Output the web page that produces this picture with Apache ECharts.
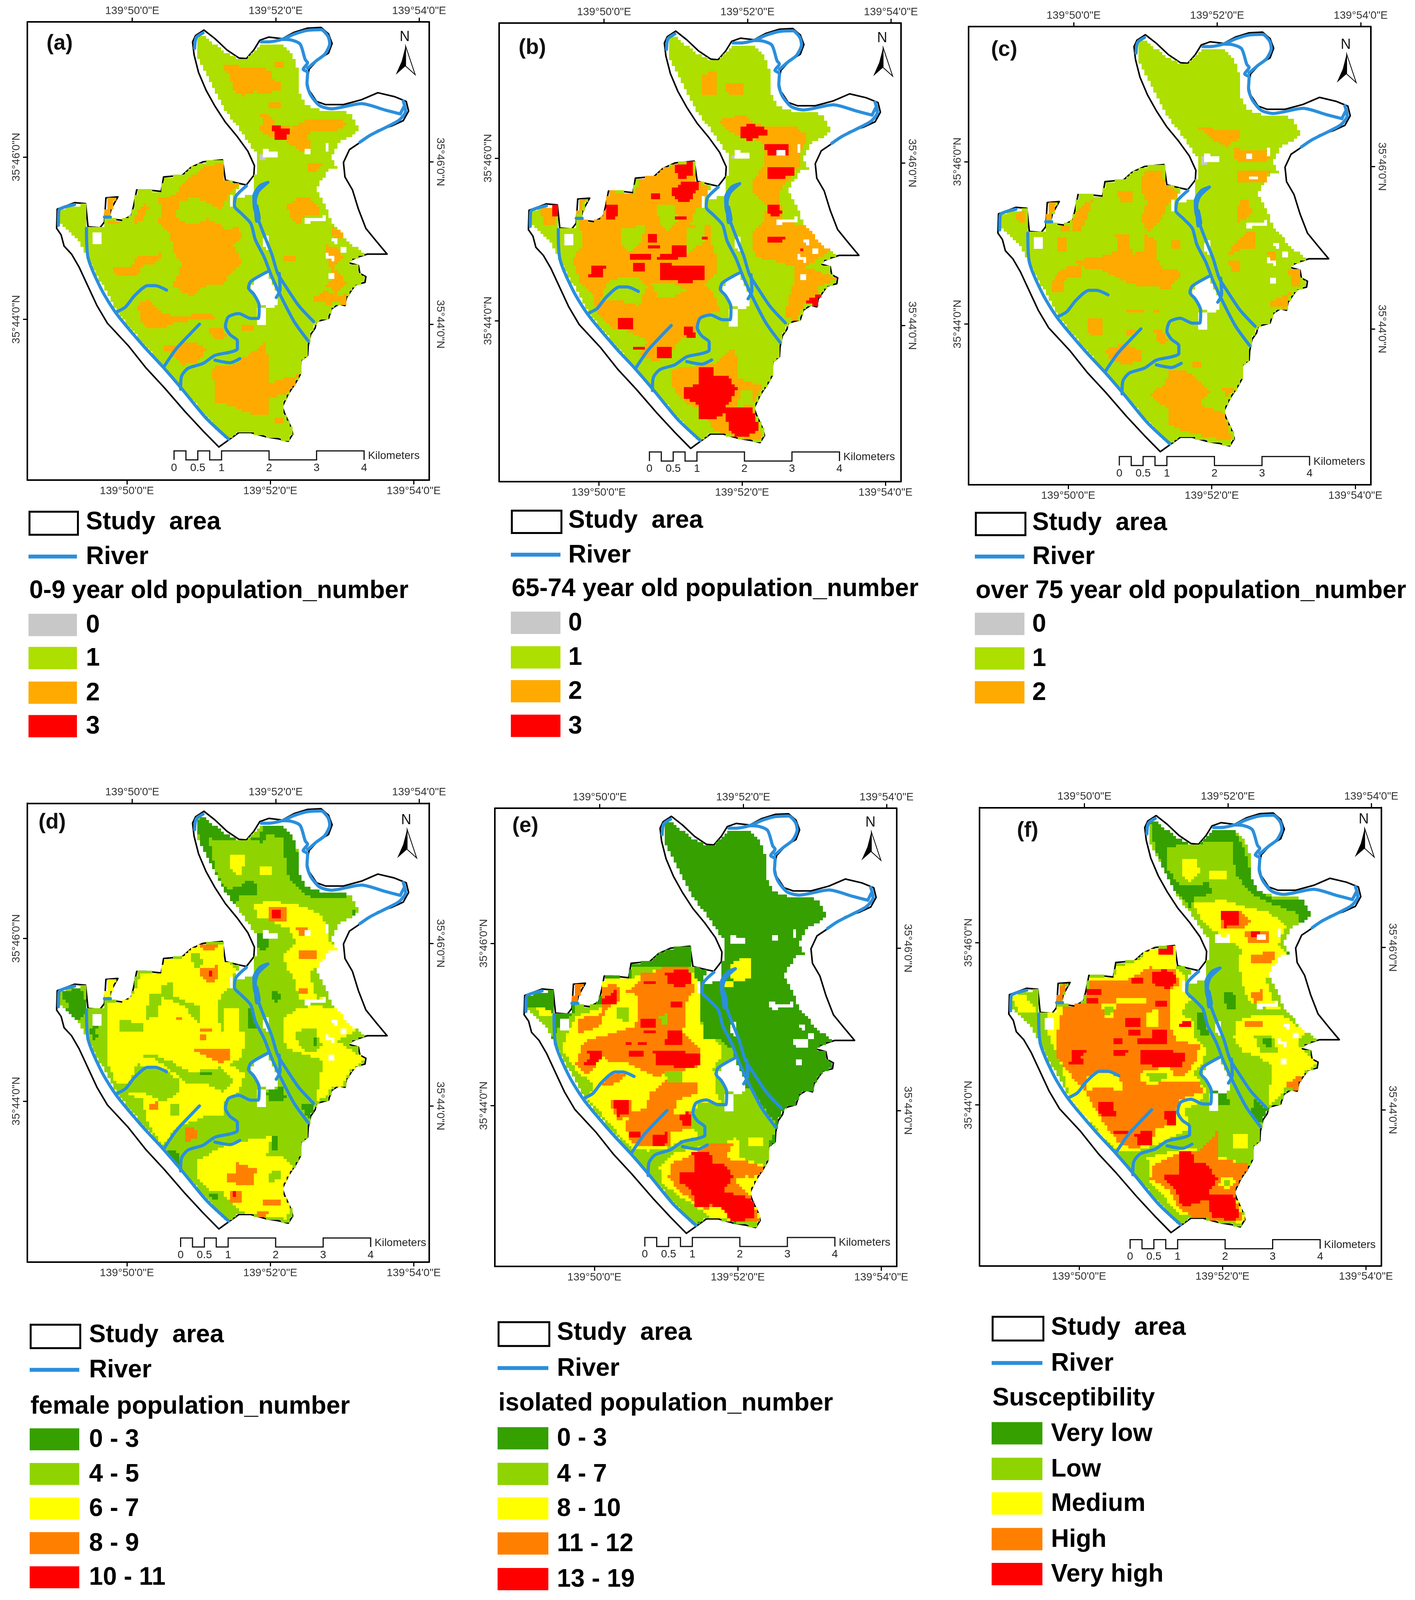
<!DOCTYPE html>
<html lang="en">
<head>
<meta charset="UTF-8">
<title>Population susceptibility maps</title>
<style>html,body{margin:0;padding:0;background:#fff;overflow:hidden}</style>
</head>
<body>
<div id="main" style="width:3623px;height:4442px;"></div>
<script src="https://cdn.jsdelivr.net/npm/echarts@6/dist/echarts.min.js"></script>
<script>
// tick labels (minutes of arc)
var lonTicks = [50, 52, 54];
var latTicks = [44, 46];

// map shapes are digitised on a 0.25" raster, see lonOf / latOf
var studyArea = [683,93,720,120,760,155,800,180,825,182,850,155,870,125,900,115,945,120,985,100,1030,87,1075,85,1100,105,1112,135,1100,165,1065,185,1035,215,1028,250,1035,280,1060,315,1090,325,1150,325,1210,310,1265,288,1320,300,1360,315,1368,345,1350,375,1310,392,1265,405,1210,440,1170,465,1150,505,1155,550,1180,590,1200,650,1225,710,1260,750,1296,790,1230,790,1195,800,1160,815,1200,825,1205,850,1225,860,1222,878,1190,885,1175,905,1160,925,1155,950,1135,945,1110,960,1100,990,1060,1000,1055,1020,1040,1040,1032,1075,1030,1105,1008,1120,1005,1165,990,1190,965,1225,945,1265,955,1290,975,1330,980,1350,965,1372,935,1365,890,1358,840,1345,800,1345,770,1365,733,1390,680,1340,620,1280,550,1205,490,1145,430,1075,360,1005,325,950,295,890,265,830,240,790,215,765,205,730,190,710,192,650,250,630,287,633,295,705,335,708,350,690,355,615,395,612,372,650,365,680,410,685,440,670,450,630,458,590,490,590,540,595,548,550,610,545,640,520,680,503,745,497,755,560,800,570,825,575,850,545,852,515,830,470,795,425,755,380,720,330,690,280,665,225,650,170,645,130,655,110];
var landArea = [665,112,690,115,735,150,790,180,825,185,850,165,875,135,950,140,980,165,1000,230,1005,295,1030,330,1070,340,1170,350,1190,375,1200,410,1135,440,1110,490,1130,520,1100,530,1060,585,1090,640,1110,690,1135,710,1165,750,1220,790,1160,815,1200,825,1205,850,1225,860,1222,878,1190,885,1175,905,1160,925,1155,950,1135,945,1110,960,1100,990,1060,1000,1040,1040,1032,1075,1030,1105,1008,1120,1005,1165,990,1190,965,1225,945,1265,955,1290,975,1330,980,1350,965,1372,935,1365,890,1358,840,1345,800,1345,770,1365,755,1365,610,1210,390,970,295,800,265,750,205,700,195,650,285,635,295,705,345,705,360,620,390,615,365,680,410,685,440,670,450,630,458,590,490,590,540,595,548,550,610,545,640,520,680,503,745,497,755,560,800,570,785,620,850,600,860,480,820,425,775,370,740,320,700,250,665,180];
var landHoles = [
  [850,870,895,845,925,900,935,950,900,955,870,945,840,905],
  [860,960,890,960,895,1015,860,1015],
  [312,720,340,720,340,762,312,762],
  [1020,680,1090,672,1090,690,1025,692],
  [1020,465,1045,465,1045,480,1020,480],
  [885,465,930,470,930,485,885,485],
  [1095,790,1125,795,1120,812,1095,805],
  [770,610,785,610,785,640,772,640],
  [880,738,905,735,900,775,885,770],
  [1085,440,1105,440,1105,470,1090,470],
  [1110,735,1135,745,1130,760,1112,752],
  [1135,770,1165,770,1165,785,1140,785],
  [1100,850,1125,850,1120,870,1105,870]
];
var riverPaths = [
  [290,710,295,800,340,900,390,975,480,1075,545,1140,610,1210,690,1300,765,1365],
  [390,970,420,955,450,920,495,888,520,888,558,902],
  [548,1142,590,1085,640,1035,668,1008],
  [605,1210,608,1170,630,1145,680,1130,720,1105,770,1095,795,1085,795,1060,770,1040,755,1015,765,985,800,975,840,990,865,990,868,950,850,915,832,895,840,875,895,845],
  [720,1120,770,1128,803,1115],
  [825,578,790,610,785,640,810,665,840,695,855,745,885,800,910,860,940,920,985,1000,1032,1060],
  [897,567,870,578,850,610,853,650,880,720,910,790,930,850,960,895,1000,950,1050,1000],
  [897,567,865,595,855,625,860,688,868,680,860,640],
  [935,850,938,900,925,925],
  [945,122,975,124,1005,137,1022,185,1030,195,1015,215,1030,225,1028,260,1040,295,1070,328,1110,338,1210,322,1290,342,1340,354],
  [875,130,900,130,945,122,985,106,1030,94,1075,92,1098,112,1104,135,1088,168,1060,188,1030,212],
  [1350,314,1358,345,1338,372,1300,392,1240,420,1205,442],
  [1340,354,1352,332],
  [680,102,657,117,652,150],
  [196,700,198,653,250,636],
  [350,675,370,675]
];

// class legends
var classesAgeA = ['0', '1', '2', '3'];
var classesAgeB = ['0', '1', '2', '3'];
var classesAgeC = ['0', '1', '2'];
var classesFemale = ['0 - 3', '4 - 5', '6 - 7', '8 - 9', '10 - 11'];
var classesIsolated = ['0 - 3', '4 - 7', '8 - 10', '11 - 12', '13 - 19'];
var classesSuscept = ['Very low', 'Low', 'Medium', 'High', 'Very high'];
var headings = ['0-9 year old population_number', '65-74 year old population_number', 'over 75 year old population_number', 'female population_number', 'isolated population_number', 'Susceptibility'];
var panelNames = ['(a)', '(b)', '(c)', '(d)', '(e)', '(f)'];
var scaleKm = [0, 0.25, 0.5, 0.75, 1, 2, 3, 4];
var scaleLabels = [0, 0.5, 1, 2, 3, 4];

// zones: first number is the class, -1 means no data (white), the rest is the zone outline
var zonesA = [
  [2,745,205,790,200,830,215,870,210,915,220,915,250,945,262,945,275,900,290,850,285,810,298,780,280,770,235],
  [2,905,320,945,320,945,335,905,335],
  [2,925,195,950,195,950,210,925,210],
  [2,870,355,900,350,920,385,975,395,1020,375,1090,375,1150,375,1165,385,1130,405,1060,405,1030,420,1040,445,1035,480,1000,465,960,440,910,425,865,405,885,380],
  [3,907,385,970,402,955,438,925,435],
  [2,1030,505,1085,505,1060,530,1030,530],
  [2,960,640,1000,610,1040,620,1070,645,1075,670,1020,670,1000,705,975,680],
  [2,1105,700,1145,720,1150,745,1120,745],
  [2,1085,760,1130,770,1150,800,1120,830,1145,860,1160,880,1130,910,1090,890,1115,860,1100,820],
  [2,1040,930,1090,905,1140,920,1165,910,1155,950,1130,940,1100,945,1060,940],
  [2,950,795,990,795,985,815,955,815],
  [2,530,620,590,605,610,575,680,520,745,505,755,560,800,575,770,600,740,650,650,610,600,630,590,680,640,700,700,680,740,700,760,720,800,700,810,740,780,760,810,815,770,850,750,890,700,880,640,920,580,890,610,820,585,790,570,730,530,690,545,650],
  [2,450,680,480,630,500,640,480,680,450,700],
  [2,365,685,405,685,400,700,365,698],
  [2,380,835,440,830,460,795,540,790,530,815,470,830,460,860,390,855],
  [2,460,950,500,930,545,975,610,985,700,970,720,990,600,1000,550,1020,480,1015],
  [2,700,1015,745,1020,760,1050,725,1060,705,1040],
  [2,535,1080,590,1075,640,1060,690,1085,670,1120,610,1135,570,1095],
  [2,705,1145,790,1130,860,1085,890,1060,900,1140,905,1190,1000,1165,990,1190,960,1225,900,1240,905,1290,830,1285,790,1265,720,1250,720,1200],
  [2,920,1300,945,1295,950,1320,925,1320],
  [2,810,1015,850,1010,845,1030,815,1030],
  [2,360,620,390,615,365,675,350,675],
  [0,870,480,890,475,885,495,870,495],
  [0,258,755,275,760,275,780,262,775]
];
var zonesB = [
  [2,780,230,830,225,835,290,780,295],
  [2,865,262,925,258,925,295,865,290],
  [2,840,375,915,355,960,385,1010,395,1080,390,1130,415,1125,450,1110,480,1105,520,1060,570,1040,600,1050,680,1090,695,1145,705,1170,745,1215,770,1180,800,1130,830,1230,865,1175,890,1160,925,1120,945,1100,995,1060,990,1060,970,1090,870,1085,830,1020,810,960,800,945,730,985,690,1000,640,960,610,945,570,990,510,990,450,950,430,895,420,850,395],
  [2,370,680,410,685,450,660,465,595,560,600,570,560,640,530,680,515,750,510,760,560,800,580,790,640,760,650,740,700,810,700,815,760,830,810,835,850,790,880,830,930,840,965,780,985,760,1040,700,1060,680,1100,620,1125,570,1100,600,1060,540,1030,480,1020,430,970,420,925,370,870,350,810,380,760],
  [1,630,640,690,640,700,680,670,720,640,700],
  [1,515,710,590,700,580,750,540,790,510,760],
  [1,725,710,785,700,790,750,730,790],
  [1,470,870,560,860,600,890,570,950,490,930,440,935],
  [1,610,880,700,885,730,905,680,925,630,920],
  [3,905,395,950,385,980,395,1010,415,970,425,945,440,915,430],
  [3,993,452,1065,452,1070,485,1000,488],
  [-1,1030,465,1060,465,1060,485,1030,485],
  [3,1003,522,1090,518,1085,550,1003,555],
  [3,1003,640,1030,635,1050,660,1030,680,1005,665],
  [3,995,735,1060,732,1050,750,1000,752],
  [3,1105,775,1125,770,1120,790],
  [3,685,585,720,565,780,570,755,605,740,630,700,625,678,605],
  [3,685,510,750,505,750,550,700,555],
  [3,610,600,645,600,640,618,610,615],
  [3,465,640,505,635,505,650,490,680,460,678],
  [3,690,672,730,670,725,682,690,685],
  [3,598,725,635,725,635,750,600,750],
  [3,600,760,640,765,640,775,600,775],
  [3,635,795,680,790,685,762,730,760,725,800,670,808,635,805],
  [3,635,820,790,825,790,870,730,878,640,870],
  [3,545,792,610,792,605,805,545,805],
  [3,550,820,595,820,590,840,550,840],
  [3,410,825,465,822,450,845,455,865,400,862,415,845],
  [3,500,985,550,985,555,1020,505,1025],
  [3,720,1020,750,1015,762,1055,730,1055],
  [3,628,1080,680,1080,680,1115,630,1118],
  [3,550,1075,595,1075,590,1088,550,1088],
  [3,780,735,808,732,800,748,782,748],
  [2,830,1130,880,1080,905,1120,900,1175,985,1200,950,1260,975,1340,985,1370,960,1370,890,1355,820,1340,790,1280,720,1250,680,1200,680,1150,720,1140],
  [1,910,1215,950,1215,950,1260,900,1265],
  [3,770,1140,820,1140,825,1165,870,1170,898,1210,860,1270,950,1270,970,1320,960,1350,900,1360,870,1340,860,1285,815,1305,775,1305,765,1255,720,1235,720,1210,770,1195],
  [3,1125,935,1165,920,1190,900,1165,955,1140,945],
  [2,365,620,390,620,370,670,360,665],
  [2,240,650,295,640,295,705,250,700],
  [3,275,640,298,635,295,675,280,675],
  [0,885,480,905,475,900,495,885,495]
];
var zonesC = [
  [2,858,398,990,405,990,430,950,455,900,435],
  [2,975,462,1090,470,1085,505,980,500],
  [-1,1015,480,1035,480,1035,495,1015,495],
  [2,985,530,1090,530,1075,570,985,570],
  [-1,1020,545,1050,545,1050,560,1020,560],
  [2,990,620,1020,620,1030,660,1015,680,985,690],
  [2,955,785,980,750,1020,720,1045,720,1045,770,990,780,960,795],
  [2,955,810,990,810,995,850,965,850],
  [2,1085,780,1115,785,1110,810,1090,810],
  [2,1150,840,1185,840,1195,885,1165,890],
  [2,1080,945,1130,925,1160,905,1145,960,1100,955],
  [2,450,810,530,800,590,780,585,725,625,725,640,790,680,780,680,730,720,750,725,830,805,845,760,900,640,885,600,870,540,840,470,830],
  [2,665,590,680,530,735,530,750,575,795,600,755,640,730,690,690,720,670,680,690,630],
  [2,590,590,640,590,640,630,600,630],
  [2,450,670,480,640,510,620,490,680,470,720,445,720],
  [2,395,740,420,740,420,780,395,780],
  [2,765,745,800,745,800,770,770,770],
  [2,380,870,410,835,470,825,470,860,420,870,410,908,380,905],
  [2,490,990,545,990,545,1040,500,1040],
  [2,625,960,685,960,680,975,625,975],
  [2,705,960,730,960,730,975,705,975],
  [2,545,1090,610,1070,670,1090,670,1125,610,1135,570,1115],
  [2,620,1025,650,1025,640,1040,620,1040],
  [2,710,1030,740,1030,760,1065,730,1070],
  [2,760,1145,830,1160,895,1215,860,1260,940,1285,965,1370,890,1360,820,1345,760,1320,755,1270,695,1230,750,1190],
  [2,935,1210,975,1210,950,1230],
  [2,840,1125,865,1125,865,1140,840,1140],
  [2,360,630,388,630,375,680,355,685],
  [2,260,665,290,655,290,695,265,695],
  [2,400,700,440,700,430,720,410,720],
  [0,870,490,890,485,885,512,868,510]
];
var zonesD = [
  [0,665,140,700,130,740,155,790,195,830,205,870,190,890,150,950,160,980,190,1000,260,1000,300,1030,340,1070,355,1170,370,1150,385,1030,380,985,340,960,310,950,200,900,185,880,210,700,200,720,290,745,340,800,380,790,410,750,385,715,320,680,250,665,190],
  [0,735,360,800,350,830,330,858,340,855,375,790,380,760,385],
  [0,1190,410,1200,450,1170,460,1180,430],
  [0,855,500,885,490,905,520,890,545,860,540],
  [0,905,680,930,670,945,695,925,710,908,700],
  [0,200,680,270,660,285,700,290,735,260,770,210,740,235,720],
  [0,300,790,345,765,345,790,310,830],
  [0,890,985,945,970,960,1010,905,1015],
  [0,1000,1020,1050,1020,1040,1075,1020,1050],
  [0,825,730,845,730,860,790,835,790],
  [0,910,1120,930,1120,930,1165,915,1165],
  [0,550,1165,605,1175,600,1220,585,1210],
  [0,700,1300,735,1300,735,1325,710,1325],
  [2,360,710,410,700,450,680,470,620,540,610,545,580,610,570,640,540,680,525,745,525,760,580,790,600,770,660,735,700,735,770,820,770,820,830,810,880,770,900,820,930,800,985,750,1020,745,1060,695,1060,640,1080,590,1100,545,1150,500,1090,475,1010,420,990,500,930,600,960,560,920,460,900,430,960,390,960,355,880,360,790],
  [1,320,790,360,760,365,880,345,900],
  [1,400,765,480,770,475,795,405,795],
  [1,500,680,540,680,530,755,490,760],
  [1,535,660,575,645,585,690,640,710,675,720,670,775,640,755,620,720,540,690],
  [1,640,560,670,550,680,595,650,600],
  [1,735,690,790,670,825,730,820,800,740,800],
  [2,755,725,805,725,800,800,755,800],
  [1,450,880,510,870,570,890,640,925,735,910,780,950,750,990,690,960,620,960,590,930,510,880],
  [1,440,950,530,930,605,950,600,985,550,1020,490,990,420,990],
  [1,570,1020,600,1030,595,1060,570,1060],
  [1,680,1065,750,1070,740,1110,680,1140,600,1150,640,1090],
  [0,670,925,710,920,710,935,670,935],
  [3,670,530,735,525,720,550,685,550],
  [3,672,600,735,595,735,640,700,645,675,630],
  [4,695,610,710,610,705,625],
  [3,640,850,775,850,770,890,735,895,690,875],
  [3,590,755,612,755,612,762,590,762],
  [3,675,788,710,788,710,798,675,798],
  [3,675,808,690,808,690,822,675,822],
  [3,500,1030,528,1012,530,1045,500,1045],
  [3,620,1100,650,1095,665,1130,620,1140],
  [2,770,250,820,250,810,320,770,290],
  [2,870,285,915,285,915,315,875,315],
  [2,850,405,900,395,960,400,1010,410,1070,435,1085,455,1100,470,1100,520,1130,540,1090,590,1040,620,1080,700,1000,700,990,640,960,600,950,560,990,520,970,480,890,450,860,445],
  [1,1035,610,1085,590,1110,680,1060,700],
  [3,895,415,960,415,960,455,905,455],
  [4,910,425,945,425,945,452,910,450],
  [3,990,475,1040,480,1035,505,1000,500],
  [3,995,550,1060,548,1055,578,1000,575],
  [3,1005,665,1030,665,1025,680,1005,680],
  [2,950,760,1000,725,1060,720,1130,730,1200,790,1130,830,1225,885,1175,920,1150,965,1110,975,1090,1005,1060,1015,1070,940,1085,890,1020,870,960,850,945,810],
  [1,985,800,1050,785,1080,840,1040,870,1000,840],
  [0,1050,820,1065,820,1065,840,1050,840],
  [2,660,1200,760,1150,870,1130,910,1125,890,1190,950,1190,990,1230,960,1260,975,1340,960,1380,880,1375,810,1360,800,1350,760,1320,740,1290,700,1290,660,1250],
  [1,895,1240,935,1230,940,1260,905,1265],
  [3,790,1205,860,1225,845,1275,800,1275,760,1265,755,1245,790,1240],
  [3,765,1290,815,1290,805,1330,770,1325],
  [4,775,1298,795,1298,790,1318],
  [3,880,1320,940,1325,935,1340,885,1340],
  [3,860,1360,905,1355,880,1375,865,1372],
  [2,350,640,395,640,370,690,350,700]
];
var zonesE = [
  [1,290,830,300,790,350,745,365,710,440,720,450,640,540,635,550,600,700,595,755,600,770,680,780,720,850,830,890,860,900,990,940,975,1030,1090,1030,1110,1005,1150,1000,1220,960,1280,950,1310,975,1385,960,1410,880,1390,800,1380,750,1400,600,1250,385,1020,320,900],
  [1,195,720,240,725,285,745,285,790,310,850,280,810,245,775,205,745],
  [2,225,725,265,730,285,750,260,755,235,745],
  [0,775,720,810,710,850,820,790,840],
  [2,360,750,440,730,450,640,520,630,540,635,650,600,755,620,780,660,780,770,790,820,840,830,845,880,820,910,825,980,845,1020,770,1020,740,1080,770,1130,710,1140,670,1160,600,1170,540,1160,440,1050,400,1010,420,960,370,930,310,850],
  [3,365,760,440,745,450,720,445,660,500,650,505,700,460,730,440,780,365,810],
  [3,580,620,640,610,650,600,735,600,755,670,725,710,725,790,680,800,630,790,625,740,565,740,560,680,520,680,570,650],
  [3,385,830,520,795,560,780,565,740,625,740,630,790,675,760,680,680,725,700,720,800,780,860,780,905,700,925,630,940,560,910,520,890,470,895,450,880,395,935,360,900],
  [3,590,1040,610,990,660,950,770,960,770,990,700,1015,680,1060,745,1050,750,1100,680,1115,670,1160,590,1160,540,1140,525,1090,545,1050],
  [3,480,1010,545,1010,550,1060,500,1075,480,1040],
  [3,460,940,500,925,530,935,480,970,450,965],
  [1,500,720,540,720,530,770,500,760],
  [1,640,750,670,745,670,780,645,780],
  [1,650,920,715,920,720,955,670,960],
  [4,660,620,700,605,740,610,750,650,700,665,670,650],
  [4,590,640,630,640,625,655,590,655],
  [4,445,700,495,670,500,690,490,715,445,715],
  [4,675,708,720,705,720,720,675,720],
  [4,580,760,625,758,625,785,580,785],
  [4,585,795,630,795,630,808,585,808],
  [4,660,825,670,795,715,795,715,840,660,845],
  [4,620,860,775,865,775,905,730,915,625,900],
  [4,530,830,550,830,550,845,530,845],
  [4,570,830,595,830,595,845,570,845],
  [4,395,860,450,857,445,880,425,902,385,900,405,880],
  [4,535,860,585,860,580,878,535,878],
  [4,485,1015,540,1012,540,1060,495,1062],
  [4,705,1055,740,1050,750,1092,715,1095],
  [4,615,1118,665,1115,665,1150,620,1155],
  [4,540,1110,580,1108,580,1125,540,1125],
  [2,640,1220,680,1180,810,1150,880,1140,900,1120,905,1190,1000,1220,955,1290,975,1385,900,1390,800,1375,760,1340,700,1310,650,1270],
  [3,680,1210,750,1180,810,1150,885,1150,860,1195,920,1200,1000,1225,960,1250,900,1270,940,1310,975,1390,880,1395,850,1330,790,1355,700,1290,670,1250],
  [4,750,1175,810,1175,815,1205,860,1215,885,1250,850,1300,920,1310,950,1320,960,1380,880,1395,850,1350,810,1340,760,1345,750,1300,705,1265,705,1240,755,1235],
  [2,895,1255,935,1250,935,1280,905,1285],
  [2,930,1125,985,1125,985,1160,935,1160],
  [3,350,655,385,650,365,710,345,710],
  [2,880,590,910,570,945,570,945,630,905,650,880,630],
  [2,855,640,895,640,880,660,860,660],
  [-1,880,510,930,510,930,525,880,525],
  [-1,1015,500,1040,500,1040,520,1015,520],
  [-1,1010,710,1090,712,1090,725,1010,722],
  [-1,1090,820,1140,825,1130,850,1095,845],
  [-1,1065,620,1100,620,1125,670,1085,660]
];
var zonesF = [
  [0,700,150,735,150,780,195,830,215,870,215,890,165,980,175,1010,240,1030,310,1060,360,1095,385,1195,385,1220,410,1225,455,1190,470,1180,430,1090,400,1030,370,980,310,965,205,890,210,760,225,755,290,790,340,845,345,890,335,905,370,840,385,835,420,780,360,740,290,715,230],
  [2,800,262,855,262,860,310,830,335,805,310],
  [2,890,295,950,295,950,325,895,325],
  [2,840,395,905,400,920,385,1000,410,1090,430,1145,470,1120,530,1150,560,1100,610,1080,640,1100,700,1130,730,1060,725,1020,700,1000,640,990,580,1000,545,950,510,900,480,860,440],
  [3,925,430,990,425,1030,455,1000,480,935,480],
  [4,928,428,985,425,990,470,945,475],
  [3,1010,490,1085,485,1085,520,1020,520],
  [4,1030,490,1062,490,1062,510,1035,510],
  [-1,1055,495,1075,495,1075,515,1055,515],
  [3,1025,560,1110,552,1100,585,1030,590],
  [3,1025,680,1065,670,1065,700,1045,710],
  [-1,915,510,960,500,965,520,920,525],
  [0,940,680,975,680,985,730,950,735],
  [0,1115,580,1160,550,1130,620,1110,610],
  [0,900,980,935,960,965,1030,910,1030],
  [0,1040,1010,1085,1040,1060,1090,1030,1060],
  [0,850,740,880,740,890,810,860,810],
  [2,360,740,405,720,490,720,500,630,590,625,590,600,660,580,690,545,780,535,785,600,810,620,830,700,800,740,840,770,845,820,880,850,875,900,840,930,885,980,860,1020,810,1040,830,1100,770,1130,720,1150,640,1175,590,1170,440,1020,400,880,360,800],
  [3,405,760,410,720,490,710,500,640,600,640,620,640,700,600,780,605,795,650,760,680,765,720,770,800,790,830,860,840,855,880,820,930,770,950,860,960,880,985,800,1010,780,1060,780,1090,720,1100,700,1150,640,1165,590,1140,560,1100,510,1030,490,990,450,950,395,880,390,830],
  [2,540,715,585,715,580,760,550,760],
  [1,550,725,575,725,572,750,555,750],
  [2,590,695,690,695,690,710,590,710],
  [2,690,740,725,730,720,790,680,780],
  [2,670,925,760,910,790,950,700,965,660,950],
  [1,685,930,750,925,755,950,700,955],
  [2,485,940,540,925,600,940,610,985,540,970,490,985],
  [4,700,620,745,605,780,620,785,650,755,670,710,650],
  [4,635,635,680,635,675,652,635,652],
  [4,495,670,540,668,535,685,495,685],
  [4,495,695,530,695,525,715,490,715],
  [4,718,705,755,703,750,718,718,718],
  [4,620,760,665,760,665,785,620,785],
  [4,625,795,665,795,665,808,625,808],
  [4,655,825,705,822,710,795,755,795,750,840,655,842],
  [4,665,860,815,862,805,910,750,915,670,900],
  [4,575,825,610,825,605,838,575,838],
  [4,575,855,625,855,620,875,580,875],
  [4,440,860,490,858,475,880,480,900,430,900,445,880],
  [4,530,1015,580,1015,585,1060,535,1060],
  [4,745,1050,780,1050,785,1095,755,1095],
  [4,650,1115,705,1110,710,1150,660,1155],
  [4,580,1110,625,1108,625,1122,580,1122],
  [4,725,540,780,535,775,557,725,557],
  [4,795,775,830,765,830,785,800,790],
  [2,690,1190,830,1160,900,1180,1020,1215,990,1280,1010,1395,900,1385,800,1370,760,1330,700,1270],
  [3,705,1215,790,1180,860,1170,920,1110,925,1195,1030,1215,990,1270,975,1300,1005,1390,900,1385,830,1375,790,1340,760,1290,700,1260],
  [2,930,1250,985,1260,960,1290,925,1280],
  [1,945,1262,965,1262,955,1278,940,1275],
  [4,790,1175,835,1175,845,1205,890,1215,920,1260,885,1310,975,1310,990,1370,970,1390,900,1375,885,1320,830,1340,800,1340,785,1290,750,1265,745,1245,795,1240],
  [2,970,1115,1020,1115,1020,1160,975,1160],
  [2,980,770,1050,745,1130,745,1210,800,1180,840,1250,895,1210,925,1180,970,1145,975,1090,1035,1090,1000,1100,905,1060,880,1000,860,975,820],
  [1,1040,810,1100,815,1120,870,1060,870],
  [0,1070,820,1095,820,1095,850,1075,850],
  [3,1010,770,1075,765,1070,785,1015,785],
  [3,1145,965,1200,930,1185,985,1160,975],
  [3,395,660,425,650,405,705,390,710],
  [2,240,690,290,690,330,735,270,745]
];

var swatchAge = ['#C8C8C8', '#ADDF00', '#FFAA00', '#FF0000'];
var swatchSusc = ['#35A000', '#8FD400', '#FFFF00', '#FF8000', '#FF0000'];
var riverColor = '#2A8FDC';
var font = '"Liberation Sans", Arial, sans-serif';

// georeference of the digitised raster
function lonOf(x) { return 50 + (x - 425) / 240; }
function latOf(y) { return 46 - (y - 488) / 252.5; }

var panels = [
  { frame: [70, 61, 1029, 1272], origin: [92, 68, 1], base: 1, zones: zonesA, classes: classesAgeA, colors: swatchAge, tag: [200, 135], north: [1355, 115], bar: [583, 1402],
    lg: { x: 73, box: [1418, 64], river: 1545, head: 1641, textX: 220, sw: [1735, 1827, 1923, 2016], w: 124, h: 62 } },
  { frame: [1278, 64, 1029, 1273], origin: [102, 72, 1], base: 1, zones: zonesB, classes: classesAgeB, colors: swatchAge, tag: [203, 146], north: [1374, 116], bar: [595, 1401],
    lg: { x: 1308, box: [1415, 62], river: 1540, head: 1636, textX: 1455, sw: [1729, 1825, 1919, 2015], w: 127, h: 62 } },
  { frame: [2480, 74, 1030, 1272], origin: [103, 83, 1.0195], base: 1, zones: zonesC, classes: classesAgeC, colors: swatchAge, tag: [211, 140], north: [1353, 125], bar: [596, 1405],
    lg: { x: 2496, box: [1421, 62], river: 1545, head: 1641, textX: 2643, sw: [1732, 1828, 1922], w: 127, h: 62 } },
  { frame: [70, 2230, 1029, 1274], origin: [92, 90, 1], base: 1, zones: zonesD, classes: classesFemale, colors: swatchSusc, tag: [175, 128], north: [1360, 121], bar: [605, 1418],
    lg: { x: 76, box: [3675, 65], river: 3803, head: 3906, textX: 228, sw: [3996, 4092, 4188, 4284, 4379], w: 127, h: 61 } },
  { frame: [1267, 2244, 1029, 1272], origin: [88, 105, 1], base: 0, zones: zonesE, classes: classesIsolated, colors: swatchSusc, tag: [194, 123], north: [1349, 113], bar: [594, 1403],
    lg: { x: 1274, box: [3668, 66], river: 3798, head: 3897, textX: 1426, sw: [3993, 4092, 4188, 4285, 4384], w: 130, h: 62 } },
  { frame: [2508, 2242, 1029, 1272], origin: [139, 103, 1.0195], base: 1, zones: zonesF, classes: classesSuscept, colors: swatchSusc, tag: [253, 140], north: [1378, 105], bar: [596, 1412],
    lg: { x: 2539, box: [3653, 66], river: 3784, head: 3883, textX: 2691, sw: [3979, 4078, 4174, 4273, 4370], w: 130, h: 62 } }
];

// the window can be shorter than the 4442 layout, squeeze vertically so nothing is cut
var FULL_H = 4442;
var K = Math.min(1, window.innerHeight / FULL_H);
document.getElementById('main').style.height = Math.floor(FULL_H * K) + 'px';

var xMin = lonOf(92), xMax = lonOf(1437);
var yMax = latOf(68), yMin = latOf(1493);
var CELL_X = 10, CELL_Y = 9;   // raster cell of the source maps

function toPoints(flat, start, origin) {
  var pts = [];
  for (var i = start; i < flat.length; i += 2) {
    pts.push([(flat[i] - origin[0]) * origin[2] + 92, flat[i + 1] - origin[1] + 68]);
  }
  return pts;
}
var mapOrigin = [92, 68, 1];

function inside(pts, x, y) {
  var c = false;
  for (var i = 0, j = pts.length - 1; i < pts.length; j = i++) {
    if ((pts[i][1] > y) !== (pts[j][1] > y) &&
        x < (pts[j][0] - pts[i][0]) * (y - pts[i][1]) / (pts[j][1] - pts[i][1]) + pts[i][0]) {
      c = !c;
    }
  }
  return c;
}

// turn the zones into raster runs [lon0, lon1, lat0, lat1, class]
function rasterRuns(p) {
  var land = toPoints(landArea, 0, mapOrigin);
  var holes = landHoles.map(function (h) { return toPoints(h, 0, mapOrigin); });
  var zones = p.zones.map(function (z) { return { cls: z[0], pts: toPoints(z, 1, p.origin) }; });
  var runs = [];
  for (var y = 84; y < 1400; y += CELL_Y) {
    var cur = -1, start = 0;
    for (var x = 180; x <= 1240; x += CELL_X) {
      var cx = x + CELL_X / 2, cy = y + CELL_Y / 2, cls = -1;
      if (inside(land, cx, cy)) {
        cls = p.base;
        for (var k = 0; k < zones.length; k++) {
          if (inside(zones[k].pts, cx, cy)) cls = zones[k].cls;
        }
        for (var h = 0; h < holes.length; h++) {
          if (inside(holes[h], cx, cy)) cls = -1;
        }
      }
      if (cls !== cur) {
        if (cur >= 0) runs.push([lonOf(start), lonOf(x), latOf(y + CELL_Y), latOf(y), cur]);
        cur = cls; start = x;
      }
    }
    if (cur >= 0) runs.push([lonOf(start), lonOf(x), latOf(y + CELL_Y), latOf(y), cur]);
  }
  return runs;
}

function lonLabel(v) { return '139°' + v + "'0\"E"; }
function latLabel(v) { return '35°' + v + "'0\"N"; }

var grids = [], xAxes = [], yAxes = [], series = [], graphics = [];

function hAxis(i, pos, lo, hi) {
  return {
    type: 'value', gridIndex: i, position: pos, min: lo, max: hi, scale: true,
    splitLine: { show: false },
    axisLine: { show: true, onZero: false, lineStyle: { color: '#000', width: 4 } },
    axisTick: { show: true, customValues: lonTicks, length: 11, lineStyle: { color: '#000', width: 3 } },
    axisLabel: { show: true, customValues: lonTicks, margin: 14, color: '#333', fontFamily: font, fontSize: 28, formatter: lonLabel }
  };
}
function vAxis(i, pos, lo, hi, rot) {
  return {
    type: 'value', gridIndex: i, position: pos, min: lo, max: hi, scale: true,
    splitLine: { show: false },
    axisLine: { show: true, onZero: false, lineStyle: { color: '#000', width: 4 } },
    axisTick: { show: true, customValues: latTicks, length: 11, lineStyle: { color: '#000', width: 3 } },
    axisLabel: { show: true, customValues: latTicks, margin: 14, rotate: rot, color: '#333', fontFamily: font, fontSize: 28, formatter: latLabel }
  };
}

panels.forEach(function (p, i) {
  grids.push({ left: p.frame[0], top: p.frame[1] * K, width: p.frame[2], height: p.frame[3] * K });
  xAxes.push(hAxis(i, 'bottom', xMin, xMax));
  xAxes.push(hAxis(i, 'top', xMin - 0.075, xMax - 0.075));
  yAxes.push(vAxis(i, 'left', yMin, yMax, 90));
  yAxes.push(vAxis(i, 'right', yMin + 0.06, yMax + 0.06, -90));

  var ax = { xAxisIndex: 2 * i, yAxisIndex: 2 * i, coordinateSystem: 'cartesian2d', silent: true, clip: false };
  var boundary = toPoints(studyArea, 0, mapOrigin).map(function (q) { return [lonOf(q[0]), latOf(q[1])]; });

  // study area
  series.push(Object.assign({}, ax, {
    type: 'custom', data: [[0]],
    renderItem: function (params, api) {
      return { type: 'polygon', shape: { points: boundary.map(function (q) { return api.coord(q); }) }, style: { fill: '#fff', stroke: '#000', lineWidth: 4, lineJoin: 'round' } };
    }
  }));
  // class raster
  series.push(Object.assign({}, ax, {
    type: 'custom', data: rasterRuns(p),
    dimensions: ['lon0', 'lon1', 'lat0', 'lat1', 'cls'],
    encode: { x: ['lon0', 'lon1'], y: ['lat0', 'lat1'] },
    renderItem: function (params, api) {
      var a = api.coord([api.value(0), api.value(3)]);
      var b = api.coord([api.value(1), api.value(2)]);
      var x0 = Math.round(a[0]), y0 = Math.round(a[1]);
      return {
        type: 'rect',
        shape: { x: x0, y: y0, width: Math.round(b[0]) - x0, height: Math.round(b[1]) - y0 },
        style: { fill: p.colors[api.value(4)] }
      };
    }
  }));

  // rivers
  var riverData = [];
  riverPaths.forEach(function (r) {
    toPoints(r, 0, mapOrigin).forEach(function (q) { riverData.push([lonOf(q[0]), latOf(q[1])]); });
    riverData.push(['-', '-']);
  });
  series.push(Object.assign({}, ax, {
    type: 'line', data: riverData, showSymbol: false, smooth: 0.25, connectNulls: false,
    lineStyle: { color: riverColor, width: 8, cap: 'round', join: 'round' }, animation: false
  }));

  // panel tag, north arrow and scale bar
  series.push(Object.assign({}, ax, {
    type: 'custom', data: [[0]],
    renderItem: function (params, api) {
      var at = function (x, y) { return api.coord([lonOf(x), latOf(y)]); };
      var kids = [];
      var tag = at(p.tag[0], p.tag[1]);
      kids.push({ type: 'text', style: { text: panelNames[i], x: tag[0], y: tag[1], align: 'center', verticalAlign: 'middle', fontFamily: font, fontWeight: 'bold', fontSize: 55, fill: '#111' } });
      var n = p.north, nTop = at(n[0], n[1]);
      kids.push({ type: 'text', style: { text: 'N', x: nTop[0], y: nTop[1], align: 'center', verticalAlign: 'middle', fontFamily: font, fontSize: 36, fill: '#111' } });
      var apex = at(n[0] + 3, n[1] + 28), notch = at(n[0] + 3, n[1] + 90);
      kids.push({ type: 'polygon', shape: { points: [apex, at(n[0] - 10, n[1] + 75), at(n[0] - 30, n[1] + 117), notch] }, style: { fill: '#000' } });
      kids.push({ type: 'polygon', shape: { points: [apex, at(n[0] + 35, n[1] + 117), notch] }, style: { fill: '#fff', stroke: '#000', lineWidth: 2 } });

      var bx = p.bar[0], by = p.bar[1], unit = 159;
      var line = [], up = true;
      scaleKm.forEach(function (km, k) {
        var sx = bx + km * unit;
        if (k === 0) { line.push(at(sx, by + 28)); line.push(at(sx, by)); return; }
        line.push(at(sx, up ? by : by + 28));
        if (k < scaleKm.length - 1) { up = !up; line.push(at(sx, up ? by : by + 28)); }
        else { line.push(at(sx, by + 28)); }
      });
      kids.push({ type: 'polyline', shape: { points: line }, style: { fill: 'none', stroke: '#111', lineWidth: 3 } });
      scaleLabels.forEach(function (km) {
        var c = at(bx + km * unit, by + 53);
        kids.push({ type: 'text', style: { text: String(km), x: c[0], y: c[1], align: 'center', verticalAlign: 'middle', fontFamily: font, fontSize: 28, fill: '#222' } });
      });
      var kLab = at(bx + 649, by + 16);
      kids.push({ type: 'text', style: { text: 'Kilometers', x: kLab[0], y: kLab[1], align: 'left', verticalAlign: 'middle', fontFamily: font, fontSize: 28, fill: '#222' } });
      return { type: 'group', children: kids };
    }
  }));

  // legend block
  var lg = p.lg, txt = function (s, x, y) {
    return { type: 'text', left: x, top: y * K - 35, style: { text: s, fontFamily: font, fontWeight: 'bold', fontSize: 64, lineHeight: 70, fill: '#000' } };
  };
  graphics.push({ type: 'rect', left: lg.x, top: lg.box[0] * K, shape: { width: lg.w, height: lg.box[1] * K }, style: { fill: '#fff', stroke: '#000', lineWidth: 5 } });
  graphics.push(txt('Study  area', lg.textX, lg.box[0] + lg.box[1] / 2));
  graphics.push({ type: 'rect', left: lg.x, top: lg.river * K - 5, shape: { width: lg.w, height: 10 }, style: { fill: riverColor } });
  graphics.push(txt('River', lg.textX, lg.river + 2));
  graphics.push(txt(headings[i], lg.x + 2, lg.head));
  p.classes.forEach(function (c, k) {
    graphics.push({ type: 'rect', left: lg.x, top: (lg.sw[k] - lg.h / 2) * K, shape: { width: lg.w, height: lg.h * K }, style: { fill: p.colors[k] } });
    graphics.push(txt(c, lg.textX, lg.sw[k] + 2));
  });
});

var myChart = echarts.init(document.getElementById('main'));
myChart.setOption({
  backgroundColor: '#fff',
  animation: false,
  grid: grids,
  xAxis: xAxes,
  yAxis: yAxes,
  series: series,
  graphic: graphics
});
</script>
</body>
</html>
